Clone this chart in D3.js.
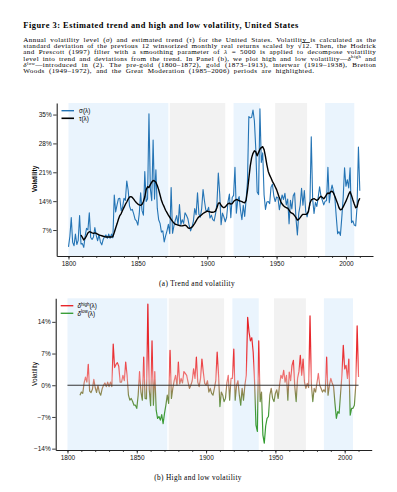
<!DOCTYPE html>
<html>
<head>
<meta charset="utf-8">
<script src="https://cdn.jsdelivr.net/npm/d3@7"></script>
<style>
  body { margin: 0; background: #fff; }
  svg { display: block; }
</style>
</head>
<body>
<svg id="chart" width="397" height="492"></svg>
<script>
// ---- data ----
var years = d3.range(1800, 2011);
var trendStart = 1809;

// sigma for the years before the trend starts (1800-1808)
var sigmaEarly = [2.9, 5.5, 10.0, 4.0, 3.2, 6.0, 3.5, 4.5, 10.5];

// tau, 1809-2010
var tau = [
  5.8,
  5.2, 4.6, 5.0, 5.6, 6.3, 6.6, 6.5, 6.3, 6.2, 6.3,
  6.2, 6.0, 5.8, 5.7, 5.6, 5.5, 5.4, 5.3, 5.3, 5.3,
  5.3, 5.3, 5.4, 6.4, 7.5, 8.5, 9.6, 10.5, 11.0, 11.8,
  12.5, 13.2, 13.8, 14.5, 15.0, 15.1, 14.9, 14.5, 14.0, 13.6,
  13.3, 13.1, 13.0, 13.2, 13.9, 15.0, 16.8, 17.5, 17.3, 18.0,
  18.6, 19.0, 18.9, 18.6, 17.8, 16.8, 15.5, 14.2, 13.3, 12.6,
  11.8, 11.2, 10.6, 10.1, 9.6, 9.1, 8.7, 8.4, 8.3, 8.2,
  8.1, 8.0, 8.0, 8.1, 8.2, 8.0, 7.6, 7.4, 7.5, 7.7,
  8.1, 8.6, 9.2, 9.8, 10.2, 10.4, 10.7, 11.0, 11.2, 11.4,
  11.6, 11.5, 11.4, 11.3, 11.3, 11.4, 11.6, 12.4, 13.5, 13.6,
  13.0, 12.6, 12.4, 12.6, 13.0, 13.4, 13.5, 13.3, 13.4, 13.9,
  14.2, 14.4, 14.3, 14.1, 14.0, 13.9, 13.7, 13.6, 14.2, 16.5,
  19.5, 22.5, 24.5, 25.6, 26.2, 26.0, 25.0, 25.8, 26.6, 27.0,
  27.2, 26.5, 24.8, 22.8, 21.2, 20.3, 19.6, 18.8, 18.2, 17.5,
  16.8, 15.8, 14.8, 13.9, 13.3, 12.9, 12.6, 12.4, 12.3, 11.8,
  11.3, 11.1, 10.9, 10.5, 10.0, 9.4, 9.6, 10.0, 10.5, 10.8,
  10.8, 10.8, 10.9, 11.5, 13.5, 14.3, 14.5, 14.6, 14.4, 14.2,
  14.4, 14.9, 15.2, 14.9, 14.6, 15.0, 15.6, 16.0, 15.8, 16.3,
  16.4, 16.0, 15.2, 14.3, 13.4, 12.4, 11.9, 12.0, 12.6, 13.3,
  14.0, 14.8, 15.7, 16.3, 15.4, 14.3, 13.3, 12.4, 12.6, 14.0,
  14.7
];

// deviation from trend (panel b), 1809-2010
var delta = [
  -2.2,
  -1.5, -1.8, 0.5, 1.8, 0.7, 4.6, -1.3, -1.6, -0.9, 1.3,
  -0.5, -1.6, 0.0, -1.6, -2.2, -0.8, 0.0, 0.5, -0.3, 0.7,
  -0.3, 0.7, -0.3, 9.1, 3.9, 4.6, 5.0, 4.2, 0.7, 0.7,
  2.2, 1.0, 5.1, 2.2, -2.2, -3.3, -2.9, -3.6, -4.4, -4.4,
  -5.1, -2.2, 3.0, -1.5, -3.3, 6.2, -2.9, -3.0, 17.9, -1.0,
  -4.5, 9.8, -4.4, 3.0, -5.5, -7.3, -6.9, -7.7, -6.5, -8.5,
  -6.2, -4.4, -2.2, -4.0, 7.7, -2.9, -0.7, 1.0, 2.2, 0.0,
  5.1, 0.3, 1.5, 0.5, 3.0, 2.6, 2.2, 0.7, -0.7, 0.0,
  1.0, 3.6, 1.5, 6.2, 0.7, -0.3, 1.5, 5.8, 2.9, 0.4,
  0.0, 1.0, -1.5, -0.7, -1.8, -2.2, -0.7, 1.0, 7.3, 2.2,
  -4.7, -1.5, -2.2, -3.6, -2.9, 0.5, 2.2, -3.3, 1.5, 1.5,
  8.0, -3.3, 0.0, 1.0, -2.2, -4.4, -0.7, -3.3, 0.0, 2.2,
  15.0, 11.7, 9.8, 10.5, 7.3, 0.7, -8.8, -10.2, 9.8, -3.6,
  -1.5, -11.0, -12.8, -9.0, -7.3, -6.9, -2.2, -0.7, -2.9, -3.6,
  -1.8, -1.0, -2.9, 0.0, 2.2, 1.5, 3.3, 0.7, 2.2, -3.3,
  2.9, 1.0, 4.4, 5.5, -0.3, -3.6, 1.5, 3.0, 6.6, 2.2,
  5.8, 0.7, -0.7, 0.4, -0.5, 15.3, 0.0, -3.6, -0.7, -1.5,
  0.5, 2.6, 0.0, -0.7, -1.5, -1.0, -1.5, 6.2, -2.2, 0.0,
  1.5, 0.5, -0.3, -4.0, -7.3, -5.8, -6.2, -2.0, 2.2, 8.8,
  3.6, 4.4, 1.5, 5.8, -6.6, -5.1, -5.1, -4.4, 0.0, 13.1,
  1.8
];

// highlighted periods
var periodStart = [1800, 1873, 1919, 1949, 1985];
var periodEnd   = [1872, 1913, 1938, 1972, 2006];
var periodFill  = ["#eaf4fd", "#f2f2f2", "#eaf4fd", "#f2f2f2", "#eaf4fd"];

var xTicks = [1800, 1850, 1900, 1950, 2000];
var xMinorTicks = d3.range(1800, 2011, 10);
var yTicksA = [7, 14, 21, 28, 35];
var yTicksB = [-14, -7, 0, 7, 14];

// ---- derived series ----
var sigma = years.map(function (yr, i) {
  return yr < trendStart ? sigmaEarly[i] : tau[yr - trendStart] + delta[yr - trendStart];
});
var trendYears = years.filter(function (yr) { return yr >= trendStart; });

var svg = d3.select("#chart");
svg.append("rect").attr("width", 397).attr("height", 492).attr("fill", "#fff");

var serif = "'Liberation Serif', 'DejaVu Serif', serif";
var sans = "'Liberation Sans', Arial, sans-serif";

// ---- caption text ----
svg.append("text")
  .attr("x", 23.3).attr("y", 27.5)
  .attr("font-family", serif).attr("font-weight", "bold").attr("font-size", 8.4)
  .attr("textLength", 275).attr("lengthAdjust", "spacing")
  .text("Figure 3: Estimated trend and high and low volatility, United States");

var lines = [
  [["Annual volatility level ("], ["σ", "i"], [") and estimated trend ("], ["τ", "i"], [") for the United States. Volatility is calculated as the"]],
  [["standard deviation of the previous 12 winsorized monthly real returns scaled by √"], ["12", "o"], [". Then, the Hodrick"]],
  [["and Prescott (1997) filter with a smoothing parameter of "], ["λ", "i"], [" = 5000 is applied to decompose volatility"]],
  [["level into trend and deviations from the trend. In Panel (b), we plot high and low volatility—"], ["δ", "i"], ["high", "s"], [" and"]],
  [["δ", "i"], ["low", "s"], ["—introduced in (2). The pre-gold (1800–1872), gold (1873–1913), interwar (1919–1938), Bretton"]],
  [["Woods (1949–1972), and the Great Moderation (1985–2006) periods are highlighted."]]
];
var lineLen = [353, 353, 353, 353, 353, 291];

// justify each line by stretching the word spacing
lines.forEach(function (segs, li) {
  var t = svg.append("text")
    .attr("x", 23.3).attr("y", 41.8 + li * 6.3)
    .attr("font-family", serif).attr("font-size", 7.1)
    .attr("letter-spacing", 0.38);
  var up = false, spaces = 0;
  segs.forEach(function (s) {
    var ts = t.append("tspan").text(s[0]);
    spaces += (s[0].match(/ /g) || []).length;
    if (s[1] === "i") ts.attr("font-style", "italic");
    if (s[1] === "o") ts.attr("text-decoration", "overline");
    if (s[1] === "s") { ts.attr("font-size", 4.8).attr("dy", -2.5); up = true; }
    else if (up) { ts.attr("dy", 2.5); up = false; }
  });
  var natural = t.node().getComputedTextLength();
  if (spaces > 0) t.attr("word-spacing", (lineLen[li] - natural) / spaces);
});

// ---- helpers ----
function styleAxis(g) {
  g.select(".domain").attr("stroke", "#222").attr("stroke-width", 1.1);
  g.selectAll(".tick line").attr("stroke", "#222").attr("stroke-width", 0.9);
  g.selectAll(".tick text").attr("font-family", sans).attr("font-size", 6.5).attr("fill", "#111");
}

function drawPanel(o) {
  var x = d3.scaleLinear().domain([1791.5, 2019.5]).range([o.left, o.right]);
  var y = d3.scaleLinear().domain(o.yDomain).range([o.bottom, o.top]);
  var g = svg.append("g");

  // period shading
  g.selectAll("rect.period")
    .data(periodStart)
    .enter().append("rect")
    .attr("x", function (d) { return x(d); })
    .attr("width", function (d, i) { return x(periodEnd[i]) - x(d); })
    .attr("y", o.top)
    .attr("height", o.bottom - o.top)
    .attr("fill", function (d, i) { return periodFill[i]; });

  // minor x ticks
  g.append("g")
    .attr("transform", "translate(0," + o.bottom + ")")
    .call(d3.axisBottom(x).tickValues(xMinorTicks).tickSize(2).tickFormat(""))
    .call(function (a) {
      a.select(".domain").remove();
      a.selectAll(".tick line").attr("stroke", "#222").attr("stroke-width", 0.8);
    });

  // major x axis
  g.append("g")
    .attr("transform", "translate(0," + o.bottom + ")")
    .call(d3.axisBottom(x).tickValues(xTicks).tickFormat(d3.format("d"))
      .tickSize(3.5).tickSizeOuter(0).tickPadding(2))
    .call(styleAxis);

  // y axis
  g.append("g")
    .attr("transform", "translate(" + o.left + ",0)")
    .call(d3.axisLeft(y).tickValues(o.yTicks)
      .tickFormat(function (d) { return (d < 0 ? "\u2212" + (-d) : d) + "%"; })
      .tickSize(3.5).tickSizeOuter(0).tickPadding(1.5))
    .call(styleAxis);

  // y label
  g.append("text")
    .attr("transform", "translate(" + o.ylabelX + "," + o.ylabelY + ") rotate(-90)")
    .attr("text-anchor", "middle")
    .attr("font-family", sans).attr("font-size", 6.5)
    .attr("font-weight", o.ylabelBold ? "bold" : "normal")
    .text("Volatility");

  return { g: g, x: x, y: y };
}

// ---- panel (a) ----
var pa = drawPanel({
  left: 56.7, right: 373, top: 103, bottom: 256,
  yDomain: [0.7, 37.8], yTicks: yTicksA,
  ylabelX: 37, ylabelY: 179, ylabelBold: true
});

pa.g.append("path")
  .datum(years)
  .attr("fill", "none")
  .attr("stroke", "#2474b5")
  .attr("stroke-width", 1.1)
  .attr("stroke-linejoin", "round")
  .attr("d", d3.line()
    .x(function (d) { return pa.x(d); })
    .y(function (d, i) { return pa.y(sigma[i]); }));

pa.g.append("path")
  .datum(trendYears)
  .attr("fill", "none")
  .attr("stroke", "#000")
  .attr("stroke-width", 1.4)
  .attr("stroke-linejoin", "round")
  .attr("d", d3.line()
    .x(function (d) { return pa.x(d); })
    .y(function (d, i) { return pa.y(tau[i]); }));

var legA = [["σ(λ)", "#2474b5", 1.4], ["τ(λ)", "#000", 1.6]];
legA.forEach(function (l, i) {
  var yy = 110.7 + i * 7.6;
  pa.g.append("line").attr("x1", 61.5).attr("x2", 74).attr("y1", yy).attr("y2", yy)
    .attr("stroke", l[1]).attr("stroke-width", l[2]);
  pa.g.append("text").attr("x", 79).attr("y", yy + 2.2)
    .attr("font-family", sans).attr("font-size", 6.3).text(l[0]);
});

svg.append("text")
  .attr("x", 197).attr("y", 285.8).attr("text-anchor", "middle")
  .attr("font-family", serif).attr("font-size", 7.3).attr("letter-spacing", 0.35)
  .text("(a) Trend and volatility");

// ---- panel (b) ----
var pb = drawPanel({
  left: 55.7, right: 371.7, top: 298.3, bottom: 450,
  yDomain: [-14.3, 19.2], yTicks: yTicksB,
  ylabelX: 36.5, ylabelY: 374, ylabelBold: false
});

// colour ramp from red (high) to green (low) along the value axis
var grad = svg.append("defs").append("linearGradient")
  .attr("id", "devGrad")
  .attr("gradientUnits", "userSpaceOnUse")
  .attr("x1", 0).attr("x2", 0)
  .attr("y1", pb.y(19.2)).attr("y2", pb.y(-14.3));
var stopVals = [19.2, 6, 1.5, 0, -1.5, -6, -14.3];
var stopCols = ["#e3161c", "#ea3236", "#f07a7a", "#b98266", "#8e8650", "#3f9b38", "#2c9c2c"];
stopVals.forEach(function (v, i) {
  grad.append("stop")
    .attr("offset", (pb.y(v) - pb.y(19.2)) / (pb.y(-14.3) - pb.y(19.2)))
    .attr("stop-color", stopCols[i]);
});

pb.g.append("path")
  .datum(trendYears)
  .attr("fill", "none")
  .attr("stroke", "url(#devGrad)")
  .attr("stroke-width", 1.2)
  .attr("stroke-linejoin", "round")
  .attr("d", d3.line()
    .x(function (d) { return pb.x(d); })
    .y(function (d, i) { return pb.y(delta[i]); }));

pb.g.append("line")
  .attr("x1", pb.x(1800)).attr("x2", pb.x(2010))
  .attr("y1", pb.y(0)).attr("y2", pb.y(0))
  .attr("stroke", "#333").attr("stroke-width", 1);

var legB = [["high", "#e8262b"], ["low", "#3a9f3a"]];
legB.forEach(function (l, i) {
  var yy = 305.7 + i * 7.6;
  pb.g.append("line").attr("x1", 60.7).attr("x2", 73.3).attr("y1", yy).attr("y2", yy)
    .attr("stroke", l[1]).attr("stroke-width", 1.4);
  var t = pb.g.append("text").attr("x", 77.5).attr("y", yy + 2.2)
    .attr("font-family", sans).attr("font-size", 6.3);
  t.append("tspan").attr("font-style", "italic").text("δ");
  t.append("tspan").attr("font-size", 4.5).attr("dy", -2.4).text(l[0]);
  t.append("tspan").attr("dy", 2.4).text("(λ)");
});

svg.append("text")
  .attr("x", 198).attr("y", 480).attr("text-anchor", "middle")
  .attr("font-family", serif).attr("font-size", 7.3).attr("letter-spacing", 0.35)
  .text("(b) High and low volatility");
</script>
</body>
</html>
